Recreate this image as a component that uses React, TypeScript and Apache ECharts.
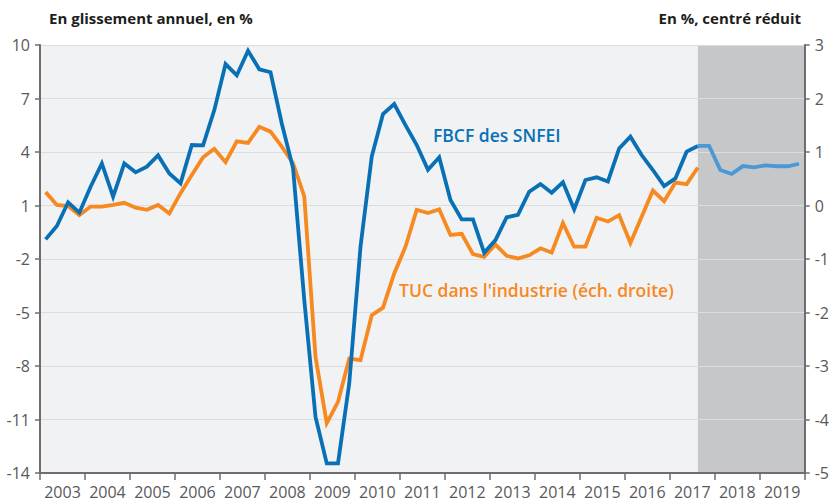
import React, { useEffect, useRef } from "react";
import * as echarts from "echarts";

// Year labels on the x axis
const years = ["2003", "2004", "2005", "2006", "2007", "2008", "2009", "2010", "2011", "2012", "2013", "2014", "2015", "2016", "2017", "2018", "2019"];

// FBCF des SNFEI, year-on-year %, quarterly from 2003 Q1 to 2017 Q3 (left axis)
const fbcf = [
  -0.9, -0.15, 1.18, 0.6, 2.05, 3.36, 1.5, 3.36, 2.86, 3.18, 3.81, 2.8, 2.24, 4.39, 4.37, 6.35,
  8.93, 8.3, 9.68, 8.64, 8.47, 5.6, 3.1, -4.3, -10.85, -13.46, -13.46, -8.97, -1.31, 3.74, 6.13, 6.69,
  5.51, 4.39, 3.0, 3.7, 1.31, 0.22, 0.22, -1.65, -0.94, 0.34, 0.47, 1.77, 2.2, 1.72, 2.3, 0.78,
  2.43, 2.58, 2.35, 4.2, 4.86, 3.83, 2.99, 2.09, 2.52, 4.02, 4.34,
];

// FBCF forecast, 2017 Q3 to 2019 Q4 (left axis)
const fbcfForecast = [4.34, 4.34, 2.99, 2.77, 3.21, 3.14, 3.25, 3.2, 3.2, 3.34];

// TUC dans l'industrie, centred-reduced, 2003 Q1 to 2017 Q3 (right axis)
const tuc = [
  0.25, 0.01, -0.01, -0.18, -0.02, -0.02, 0.01, 0.05, -0.04, -0.08, 0.01, -0.15, 0.23, 0.57, 0.9, 1.06,
  0.81, 1.2, 1.17, 1.47, 1.38, 1.1, 0.79, 0.17, -2.83, -4.07, -3.67, -2.86, -2.89, -2.05, -1.91, -1.27,
  -0.77, -0.08, -0.14, -0.07, -0.55, -0.53, -0.91, -0.96, -0.73, -0.94, -0.99, -0.93, -0.8, -0.88, -0.33, -0.77,
  -0.77, -0.23, -0.3, -0.18, -0.7, -0.21, 0.28, 0.08, 0.43, 0.4, 0.71,
];

const FIRST_YEAR = 2003;
const FORECAST_START_INDEX = 58; // 2017 Q3

const FONT = "'Open Sans', 'Noto Sans', sans-serif";
const BLUE = "#0a70b5";
const BLUE_LIGHT = "#4a98d6";
const ORANGE = "#f6891f";
const AXIS = "#6d6e71";
const LABEL = "#58595b";

// position of quarter index i on the year scale (mid-quarter)
const qx = (i: number) => FIRST_YEAR + (i + 0.5) / 4;

export default function App() {
  const ref = useRef<HTMLDivElement>(null);

  useEffect(() => {
    if (!ref.current) return;
    document.body.style.margin = "0";
    const chart = echarts.init(ref.current, null, { renderer: "svg" });

    const fbcfData = fbcf.map((v, i) => [qx(i), v]);
    const fcData = fbcfForecast.map((v, i) => [qx(i + FORECAST_START_INDEX), v]);
    const tucData = tuc.map((v, i) => [qx(i), v]);

    chart.setOption({
      animation: false,
      textStyle: { fontFamily: FONT },
      grid: {
        left: 40,
        right: 27,
        top: 45,
        bottom: 30,
        show: true,
        backgroundColor: "#f1f2f4",
        borderWidth: 0,
        z: 0,
      },
      xAxis: [
        {
          type: "value",
          min: FIRST_YEAR,
          max: FIRST_YEAR + years.length,
          interval: 1,
          position: "bottom",
          z: 2,
          axisLine: { show: true, onZero: false, lineStyle: { color: AXIS, width: 2 } },
          axisTick: { show: true, length: 7, lineStyle: { color: AXIS, width: 1.5 } },
          axisLabel: { show: false },
          splitLine: { show: false },
        },
        {
          type: "category",
          data: years,
          position: "bottom",
          boundaryGap: true,
          z: 2,
          axisLine: { show: false },
          axisTick: { show: false },
          axisLabel: { color: LABEL, fontSize: 16, margin: 11, fontFamily: FONT, interval: 0 },
          splitLine: { show: false },
        },
      ],
      yAxis: [
        {
          type: "value",
          min: -14,
          max: 10,
          interval: 3,
          position: "left",
          z: 2,
          axisLine: { show: true, onZero: false, lineStyle: { color: AXIS, width: 2 } },
          axisTick: { show: true, length: 5, lineStyle: { color: AXIS, width: 1.5 } },
          axisLabel: { color: LABEL, fontSize: 16, margin: 10, fontFamily: FONT },
          splitLine: { show: true, lineStyle: { color: "#dcdde0", width: 1.2 } },
        },
        {
          type: "value",
          min: -5,
          max: 3,
          interval: 1,
          position: "right",
          z: 2,
          axisLine: { show: true, onZero: false, lineStyle: { color: AXIS, width: 2 } },
          axisTick: { show: true, length: 5, lineStyle: { color: AXIS, width: 1.5 } },
          axisLabel: { color: LABEL, fontSize: 16, margin: 10, fontFamily: FONT },
          splitLine: { show: false },
        },
      ],
      series: [
        {
          type: "line",
          name: "forecast-area",
          xAxisIndex: 0,
          yAxisIndex: 0,
          data: [],
          z: 1,
          silent: true,
          markArea: {
            silent: true,
            itemStyle: { color: "#c6c7c9" },
            data: [[{ xAxis: qx(FORECAST_START_INDEX) }, { xAxis: FIRST_YEAR + years.length }]],
          },
        },
        {
          type: "line",
          name: "TUC",
          xAxisIndex: 0,
          yAxisIndex: 1,
          data: tucData,
          showSymbol: false,
          z: 3,
          lineStyle: { color: ORANGE, width: 3.8, join: "miter" },
          itemStyle: { color: ORANGE },
        },
        {
          type: "line",
          name: "FBCF",
          xAxisIndex: 0,
          yAxisIndex: 0,
          data: fbcfData,
          showSymbol: false,
          z: 4,
          lineStyle: { color: BLUE, width: 3.8, join: "miter" },
          itemStyle: { color: BLUE },
        },
        {
          type: "line",
          name: "FBCF prévision",
          xAxisIndex: 0,
          yAxisIndex: 0,
          data: fcData,
          showSymbol: false,
          z: 4,
          lineStyle: { color: BLUE_LIGHT, width: 3.8, join: "miter" },
          itemStyle: { color: BLUE_LIGHT },
        },
      ],
      graphic: [
        {
          type: "text",
          left: 49,
          top: 10,
          style: { text: "En glissement annuel, en %", fill: "#1d1d1b", font: `bold 15px ${FONT}` },
        },
        {
          type: "text",
          right: 31,
          top: 10,
          style: { text: "En %, centré réduit", fill: "#1d1d1b", font: `bold 15px ${FONT}` },
        },
        {
          type: "text",
          left: 433,
          top: 126,
          z: 10,
          style: { text: "FBCF des SNFEI", fill: BLUE, font: `600 17.5px ${FONT}` },
        },
        {
          type: "text",
          left: 399,
          top: 281,
          z: 10,
          style: { text: "TUC dans l'industrie (éch. droite)", fill: ORANGE, font: `600 17.5px ${FONT}` },
        },
      ],
    });

    return () => chart.dispose();
  }, []);

  return <div ref={ref} style={{ width: 832, height: 503 }} />;
}
